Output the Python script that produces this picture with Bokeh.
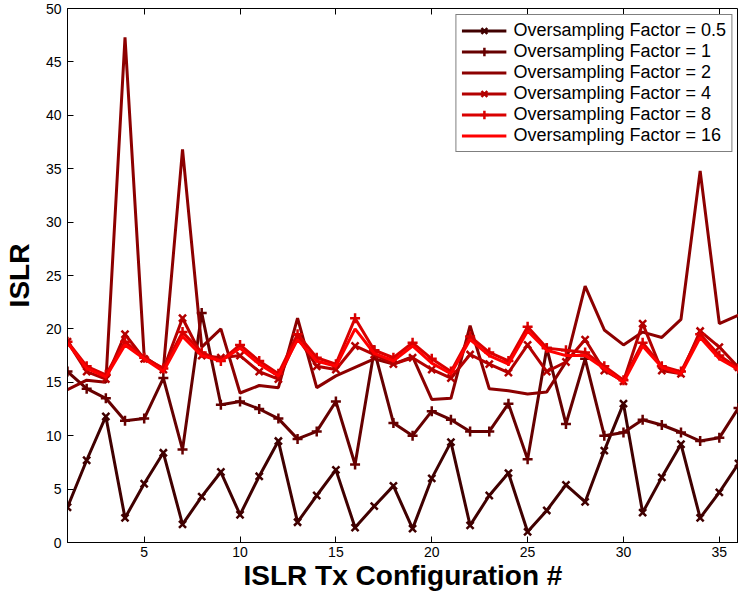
from bokeh.plotting import figure
from bokeh.models import Legend, LegendItem, LinearAxis, FixedTicker, Range1d, CustomJSTickFormatter
from bokeh.embed import file_html
from bokeh.resources import INLINE

x = list(range(1, 37))

os_05 = [3.3, 7.7, 11.8, 2.3, 5.5, 8.4, 1.7, 4.3, 6.6, 2.6, 6.2, 9.5,
         1.9, 4.4, 6.8, 1.4, 3.4, 5.3, 1.3, 6.0, 9.4, 1.6, 4.4, 6.5,
         1.0, 3.0, 5.4, 3.8, 8.6, 13.0, 2.8, 6.1, 9.2, 2.3, 4.7, 7.4]
os_1 = [16.0, 14.4, 13.5, 11.4, 11.6, 15.4, 8.7, 21.5, 12.9, 13.2, 12.5, 11.6,
        9.7, 10.4, 13.2, 7.3, 18.0, 11.2, 10.0, 12.3, 11.5, 10.4, 10.4, 13.0,
        7.8, 18.2, 11.1, 17.2, 10.0, 10.3, 11.5, 11.0, 10.3, 9.5, 9.8, 12.6]
os_2 = [14.3, 15.2, 15.0, 47.3, 17.4, 16.2, 36.8, 18.3, 20.0, 14.0, 14.7, 14.5,
        21.0, 14.5, 15.6, 16.4, 17.2, 16.7, 17.4, 13.4, 13.5, 20.3, 14.4, 14.2,
        13.9, 14.1, 16.9, 24.0, 19.9, 18.5, 19.7, 19.2, 20.9, 34.8, 20.5, 21.3]
os_4 = [18.8, 16.0, 15.3, 19.5, 17.2, 16.2, 21.0, 17.5, 17.3, 17.5, 16.0, 15.3,
        19.2, 16.5, 16.2, 18.4, 17.6, 16.7, 17.3, 16.2, 15.4, 17.6, 16.7, 15.9,
        18.5, 16.0, 16.9, 19.0, 16.1, 15.1, 20.5, 16.1, 15.8, 19.8, 18.3, 16.4]
os_8 = [18.8, 16.5, 15.7, 18.8, 17.3, 16.3, 19.7, 17.8, 17.0, 18.5, 17.0, 15.8,
        19.5, 17.3, 16.7, 21.0, 18.0, 17.3, 18.7, 17.2, 16.0, 19.3, 17.8, 17.0,
        20.2, 18.2, 18.0, 17.8, 16.5, 15.2, 18.7, 16.5, 16.0, 19.5, 17.5, 16.3]
os_16 = [18.7, 16.3, 15.5, 18.5, 17.2, 16.0, 19.3, 17.5, 17.0, 18.2, 16.7, 15.6,
         19.0, 17.0, 16.5, 20.0, 17.7, 17.0, 18.4, 16.8, 15.8, 19.0, 17.5, 16.7,
         19.8, 18.0, 17.5, 17.5, 16.3, 15.0, 18.4, 16.4, 15.8, 19.2, 17.2, 16.2]

labels = ["Oversampling Factor = 0.5", "Oversampling Factor = 1",
          "Oversampling Factor = 2", "Oversampling Factor = 4",
          "Oversampling Factor = 8", "Oversampling Factor = 16"]
series = [os_05, os_1, os_2, os_4, os_8, os_16]
colors = ["#400000", "#660000", "#8C0000", "#B30000", "#D90000", "#FF0000"]
markers = ["x", "cross", None, "x", "cross", None]

x_ticks = [5, 10, 15, 20, 25, 30, 35]
y_ticks = [0, 5, 10, 15, 20, 25, 30, 35, 40, 45, 50]

p = figure(width=738, height=595, output_backend="svg", toolbar_location=None,
           x_range=Range1d(1, 36), y_range=Range1d(0, 50),
           min_border_left=65, min_border_right=0, min_border_top=8, min_border_bottom=53)
p.xgrid.visible = False
p.ygrid.visible = False
p.outline_line_color = "black"
p.outline_line_width = 1
p.background_fill_color = "white"
p.border_fill_color = "white"

FONT = "Liberation Sans"
for ax in (p.xaxis[0], p.yaxis[0]):
    ax.major_label_text_font = FONT
    ax.major_label_text_font_size = "14px"
    ax.major_label_text_color = "black"
    ax.major_tick_in = 6
    ax.major_tick_out = 0
    ax.minor_tick_line_color = None
    ax.axis_line_color = "black"
    ax.axis_label_text_font = FONT
    ax.axis_label_text_font_size = "28px"
    ax.axis_label_text_font_style = "bold"
    ax.axis_label_text_color = "black"
p.xaxis[0].ticker = FixedTicker(ticks=x_ticks)
p.yaxis[0].ticker = FixedTicker(ticks=y_ticks)
p.xaxis[0].axis_label = "ISLR Tx Configuration #"
p.yaxis[0].axis_label = "ISLR"
p.xaxis[0].major_label_standoff = 4
p.xaxis[0].axis_label_standoff = 0
p.yaxis[0].major_label_standoff = 6
p.yaxis[0].axis_label_standoff = 8

blank = CustomJSTickFormatter(code="return '';")
top = LinearAxis(ticker=FixedTicker(ticks=x_ticks), formatter=blank,
                 major_tick_in=6, major_tick_out=0, minor_tick_line_color=None,
                 axis_line_color=None, major_label_standoff=0)
p.add_layout(top, "above")

items = []
for ys, c, m, lab in zip(series, colors, markers, labels):
    r = [p.line(x, ys, line_color=c, line_width=3)]
    if m is not None:
        r.append(p.scatter(x, ys, marker=m, size=10, line_color=c, line_width=2.5))
    items.append(LegendItem(label=lab, renderers=r))

legend = Legend(items=items, location="top_right")
legend.label_text_font = FONT
legend.label_text_font_size = "18px"
legend.label_text_color = "black"
legend.glyph_width = 45
legend.glyph_height = 21
legend.label_height = 21
legend.spacing = 0
legend.padding = 5
legend.margin = 6
legend.label_standoff = 7
legend.border_line_color = "black"
legend.border_line_width = 1
legend.background_fill_alpha = 1
p.add_layout(legend)

open("out.html", "w").write(file_html(p, INLINE))
